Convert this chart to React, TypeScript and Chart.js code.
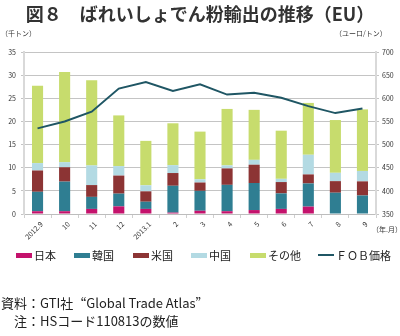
import React, { useEffect, useRef } from "react";
import { Chart, registerables } from "chart.js";

Chart.register(...registerables);

const months = ["2012.9", "10", "11", "12", "2013.1", "2", "3", "4", "5", "6", "7", "8", "9"];
const japan = [0.6, 0.6, 1.1, 1.65, 1.1, 0.3, 0.7, 0.6, 0.85, 1.1, 1.6, 0, 0];
const korea = [4.2, 6.4, 2.6, 2.75, 1.55, 5.8, 4.3, 5.7, 5.85, 3.35, 5.0, 4.6, 4.0];
const usa = [4.6, 3.1, 2.55, 3.9, 2.25, 2.75, 1.8, 3.55, 3.95, 2.45, 1.95, 2.5, 3.05];
const china = [1.6, 1.1, 4.25, 2.05, 1.3, 1.7, 0.7, 0.65, 1.05, 0.7, 4.25, 1.8, 2.25];
const others = [16.7, 19.5, 18.4, 10.95, 9.6, 9.05, 10.3, 12.2, 10.8, 10.4, 11.2, 11.4, 13.3];
const fobPrice = [535, 550, 571, 621, 635, 616, 630, 608, 612, 601, 583, 568, 578];

const seriesNames = ["日本", "韓国", "米国", "中国", "その他", "ＦＯＢ価格"];
const seriesColors = ["#c4126c", "#2f7e92", "#8c3434", "#b3dae3", "#c7dc6d", "#1f5664"];

const FONT = "'Noto Sans CJK JP', 'Noto Sans', sans-serif";

export default function App() {
  const canvasRef = useRef<HTMLCanvasElement | null>(null);

  useEffect(() => {
    if (!canvasRef.current) return;
    const barSets = [japan, korea, usa, china, others];
    const chart = new Chart(canvasRef.current, {
      data: {
        labels: months,
        datasets: [
          {
            type: "line" as const,
            label: seriesNames[5],
            data: fobPrice,
            yAxisID: "y1",
            borderColor: seriesColors[5],
            borderWidth: 2,
            pointRadius: 0,
            tension: 0,
            order: 0,
          },
          ...barSets.map((d, i) => ({
            type: "bar" as const,
            label: seriesNames[i],
            data: d,
            yAxisID: "y",
            backgroundColor: seriesColors[i],
            borderWidth: 0,
            barPercentage: 0.41,
            categoryPercentage: 1,
            order: 1,
          })),
        ],
      },
      options: {
        responsive: false,
        animation: false,
        layout: { padding: { top: 52, bottom: 92, left: 0, right: 0 } },
        plugins: { legend: { display: false }, tooltip: { enabled: false } },
        scales: {
          x: {
            stacked: true,
            grid: { display: true, drawOnChartArea: false, offset: true, tickLength: 4, color: "#cfcfcf" },
            border: { color: "#bdbdbd", width: 1 },
            ticks: {
              autoSkip: false,
              maxRotation: 45,
              minRotation: 45,
              padding: 2,
              labelOffset: 4,
              color: "#333",
              font: { family: FONT, size: 7 },
            },
            afterFit: (s: any) => {
              s.height = 30;
            },
          },
          y: {
            stacked: true,
            position: "left",
            min: 0,
            max: 35,
            ticks: { stepSize: 5, padding: 5, color: "#333", font: { family: FONT, size: 7 } },
            grid: { color: "#c4c4c4", lineWidth: 1, tickLength: 3 },
            border: { color: "#d9d9d9", width: 2 },
            afterFit: (s: any) => {
              s.width = 24;
            },
          },
          y1: {
            position: "right",
            min: 350,
            max: 700,
            ticks: { stepSize: 50, padding: 3, color: "#333", font: { family: FONT, size: 7 } },
            grid: { drawOnChartArea: false, color: "#c4c4c4", tickLength: 3 },
            border: { color: "#d9d9d9", width: 2 },
            afterFit: (s: any) => {
              s.width = 24;
            },
          },
        },
      },
    });
    return () => chart.destroy();
  }, []);

  const legendX = [16, 74, 133, 191, 250, 318];
  const fw = { fontFeatureSettings: '"fwid"' } as React.CSSProperties;

  return (
    <div lang="ja" style={{ position: "absolute", left: 0, top: 0, width: 400, height: 336, background: "#fff", fontFamily: FONT, color: "#222" }}>
      <canvas ref={canvasRef} width={400} height={336} style={{ position: "absolute", left: 0, top: 0 }} />
      <div style={{ position: "absolute", top: 2, left: 0, width: 400, textAlign: "center", fontSize: 18, lineHeight: "22px", fontWeight: 700, color: "#333", whiteSpace: "pre" }}>
        図８　ばれいしょでん粉輸出の推移（EU）
      </div>
      <div style={{ position: "absolute", top: 29, left: 1, fontSize: 7, lineHeight: "9px", color: "#333" }}>（千トン）</div>
      <div style={{ position: "absolute", top: 29, left: 335, fontSize: 7, lineHeight: "9px", color: "#333" }}>（ユーロ/トン）</div>
      <div style={{ position: "absolute", top: 225, left: 372, fontSize: 7, lineHeight: "9px", color: "#333" }}>（年.月）</div>
      {seriesNames.map((n, i) => (
        <div key={n} style={{ position: "absolute", left: legendX[i], top: 248, height: 14, display: "flex", alignItems: "center", fontSize: 11, lineHeight: "14px", color: "#222", whiteSpace: "pre" }}>
          <span
            style={{
              display: "inline-block",
              width: 16,
              height: i === 5 ? 2 : 5,
              background: seriesColors[i],
              marginRight: 2,
            }}
          />
          {n}
        </div>
      ))}
      <div style={{ position: "absolute", left: 1, top: 294, fontSize: 13, lineHeight: "17px", color: "#222", whiteSpace: "pre" }}>
        資料：GTI社<span style={fw}>“</span>Global Trade Atlas<span style={fw}>”</span>
      </div>
      <div style={{ position: "absolute", left: 1, top: 312, fontSize: 13, lineHeight: "17px", color: "#222", whiteSpace: "pre" }}>
        {"　注：HSコード110813の数値"}
      </div>
    </div>
  );
}
